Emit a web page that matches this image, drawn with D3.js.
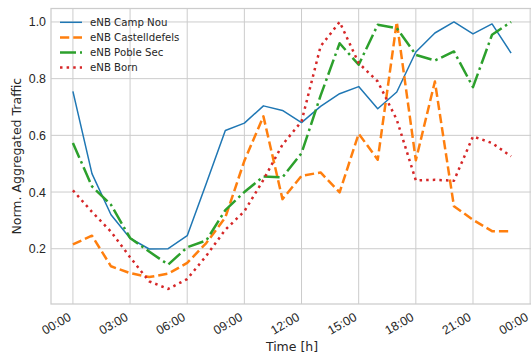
<!DOCTYPE html>
<html>
<head>
<meta charset="utf-8">
<script src="https://cdn.jsdelivr.net/npm/d3@7"></script>
<style>
  body { margin: 0; background: #fff; }
  svg { display: block; font-family: "DejaVu Sans", sans-serif; }
</style>
</head>
<body>
<script>
var w = 531;
var h = 354;

// hourly samples, 00:00 .. 23:00
var hours = d3.range(0, 24);
var campNou = [0.755, 0.465, 0.32, 0.237, 0.199, 0.2, 0.246, 0.43, 0.617, 0.643, 0.704, 0.688,
               0.645, 0.702, 0.747, 0.772, 0.694, 0.753, 0.894, 0.961, 1.0, 0.958, 0.993, 0.89];
var castelldefels = [0.215, 0.246, 0.138, 0.114, 0.1, 0.112, 0.15, 0.22, 0.31, 0.51, 0.667, 0.375,
                     0.457, 0.469, 0.399, 0.606, 0.514, 1.0, 0.512, 0.79, 0.35, 0.302, 0.262, 0.262];
var pobleSec = [0.573, 0.42, 0.355, 0.238, 0.19, 0.144, 0.205, 0.229, 0.336, 0.4, 0.455, 0.452,
                0.537, 0.74, 0.925, 0.849, 0.99, 0.978, 0.884, 0.864, 0.896, 0.77, 0.955, 1.0];
var born = [0.406, 0.33, 0.26, 0.17, 0.085, 0.058, 0.093, 0.175, 0.267, 0.332, 0.443, 0.567,
            0.649, 0.914, 1.0, 0.855, 0.79, 0.655, 0.441, 0.443, 0.44, 0.596, 0.573, 0.526];

var seriesNames = ["eNB Camp Nou", "eNB Castelldefels", "eNB Poble Sec", "eNB Born"];
var xTicks = [0, 3, 6, 9, 12, 15, 18, 21, 24];
var xTickLabels = ["00:00", "03:00", "06:00", "09:00", "12:00", "15:00", "18:00", "21:00", "00:00"];
var yTicks = [0.2, 0.4, 0.6, 0.8, 1.0];

var series = [
  { name: seriesNames[0], values: campNou, color: "#1f77b4", width: 1.5, dash: null },
  { name: seriesNames[1], values: castelldefels, color: "#ff7f0e", width: 2.5, dash: "9.25,4" },
  { name: seriesNames[2], values: pobleSec, color: "#2ca02c", width: 2.5, dash: "16,4,2.5,4" },
  { name: seriesNames[3], values: born, color: "#d62728", width: 2.5, dash: "2.5,4.1" }
];

// plot area (note: "top" is reserved on window, so use m* names)
var mLeft = 51, mTop = 8.5, mRight = 533, mBottom = 304;
var textColor = "#262626";

var xScale = d3.scaleLinear().domain([-1.15, 24.15]).range([mLeft, mRight]);
var yScale = d3.scaleLinear().domain([0.005, 1.0475]).range([mBottom, mTop]);

var svg = d3.select("body").append("svg")
            .attr("width", w)
            .attr("height", h);

// grid
svg.append("g").selectAll("line")
   .data(xTicks).enter().append("line")
   .attr("x1", function(d) { return xScale(d); })
   .attr("x2", function(d) { return xScale(d); })
   .attr("y1", mTop).attr("y2", mBottom)
   .attr("stroke", "#cccccc").attr("stroke-width", 1);

svg.append("g").selectAll("line")
   .data(yTicks).enter().append("line")
   .attr("x1", mLeft).attr("x2", mRight)
   .attr("y1", function(d) { return yScale(d); })
   .attr("y2", function(d) { return yScale(d); })
   .attr("stroke", "#cccccc").attr("stroke-width", 1);

// frame
svg.append("rect")
   .attr("x", mLeft).attr("y", mTop)
   .attr("width", mRight - mLeft).attr("height", mBottom - mTop)
   .attr("fill", "none").attr("stroke", "#cccccc").attr("stroke-width", 1.25);

// axes (labels only, seaborn whitegrid has no tick marks)
var xAxis = d3.axisBottom(xScale)
              .tickValues(xTicks)
              .tickSize(0)
              .tickFormat(function(d, i) { return xTickLabels[i]; });

var gx = svg.append("g")
   .attr("transform", "translate(0," + mBottom + ")")
   .call(xAxis);
gx.select(".domain").remove();
gx.selectAll("text")
  .attr("font-size", "12.4px")
  .attr("fill", textColor)
  .attr("text-anchor", "end")
  .attr("y", 0).attr("dy", 0)
  .attr("transform", "translate(-1.5,15.5) rotate(-30)");

var yAxis = d3.axisLeft(yScale)
              .tickValues(yTicks)
              .tickSize(0)
              .tickPadding(5)
              .tickFormat(d3.format(".1f"));

var gy = svg.append("g")
   .attr("transform", "translate(" + mLeft + ",0)")
   .call(yAxis);
gy.select(".domain").remove();
gy.selectAll("text")
  .attr("font-size", "12.4px")
  .attr("fill", textColor);

// lines
var line = d3.line()
  .x(function(d, i) { return xScale(hours[i]); })
  .y(function(d) { return yScale(d); });

svg.append("g").selectAll("path")
   .data(series).enter().append("path")
   .attr("d", function(s) { return line(s.values); })
   .attr("fill", "none")
   .attr("stroke", function(s) { return s.color; })
   .attr("stroke-width", function(s) { return s.width; })
   .attr("stroke-dasharray", function(s) { return s.dash; })
   .attr("stroke-linejoin", "round");

// legend
var legend = svg.append("g").selectAll("g")
   .data(series).enter().append("g")
   .attr("transform", function(s, i) { return "translate(60," + (22.3 + i * 15.1) + ")"; });

legend.append("line")
   .attr("x1", 0).attr("x2", 22)
   .attr("y1", 0).attr("y2", 0)
   .attr("stroke", function(s) { return s.color; })
   .attr("stroke-width", function(s) { return s.width; })
   .attr("stroke-dasharray", function(s) { return s.dash; });

legend.append("text")
   .attr("x", 30)
   .attr("dy", "0.36em")
   .attr("font-size", "10.2px")
   .attr("fill", textColor)
   .text(function(s) { return s.name; });

// axis labels
svg.append("text")
   .attr("text-anchor", "middle")
   .attr("x", (mLeft + mRight) / 2)
   .attr("y", 350.8)
   .attr("font-size", "12.5px")
   .attr("fill", textColor)
   .text("Time [h]");

svg.append("text")
   .attr("text-anchor", "middle")
   .attr("transform", "rotate(-90)")
   .attr("x", -(mTop + mBottom) / 2)
   .attr("y", 20.5)
   .attr("font-size", "12.5px")
   .attr("fill", textColor)
   .text("Norm. Aggregated Traffic");
</script>
</body>
</html>
